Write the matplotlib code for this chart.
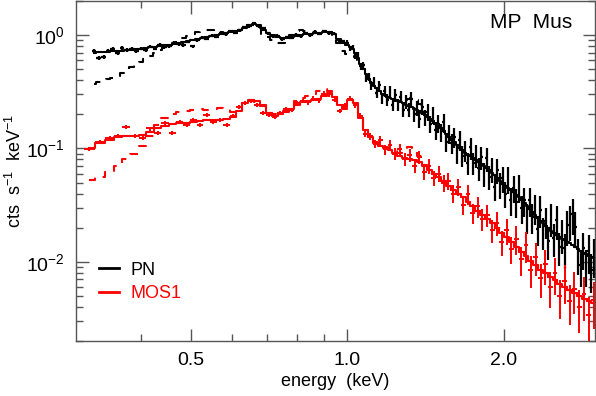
import numpy as np
import matplotlib
matplotlib.use("Agg")
import matplotlib.pyplot as plt
from matplotlib.ticker import FixedLocator, FixedFormatter, NullFormatter
from matplotlib.lines import Line2D

plt.rcParams['font.family'] = ['Liberation Sans', 'DejaVu Sans']
plt.rcParams['mathtext.fontset'] = 'custom'
plt.rcParams['mathtext.rm'] = 'Liberation Sans'
plt.rcParams['mathtext.it'] = 'Liberation Sans'
plt.rcParams['mathtext.bf'] = 'Liberation Sans'
plt.rcParams['lines.scale_dashes'] = False

# ---------------- PN (black) ----------------
pn_energy = [
    0.325, 0.332, 0.339, 0.346, 0.353, 0.361, 0.368, 0.376, 0.384, 0.392,
    0.400, 0.409, 0.417, 0.426, 0.435, 0.444, 0.454, 0.463, 0.473, 0.483,
    0.493, 0.504, 0.514, 0.525, 0.536, 0.548, 0.559, 0.571, 0.583, 0.595,
    0.608, 0.621, 0.634, 0.647, 0.661, 0.675, 0.689, 0.703, 0.718, 0.733,
    0.749, 0.765, 0.781, 0.797, 0.814, 0.831, 0.849, 0.866, 0.885, 0.903,
    0.922, 0.942, 0.962, 0.982,
    1.000, 1.012, 1.024, 1.036, 1.048, 1.061, 1.073, 1.086, 1.099, 1.112,
    1.125, 1.139, 1.152, 1.166, 1.180, 1.194, 1.208, 1.223, 1.237, 1.252,
    1.267, 1.282, 1.298, 1.313, 1.329, 1.345, 1.361, 1.377, 1.394, 1.410,
    1.427, 1.444, 1.462, 1.479, 1.497, 1.515, 1.533, 1.551, 1.570, 1.589,
    1.608, 1.627, 1.647, 1.666, 1.686, 1.706, 1.727, 1.748, 1.769, 1.790,
    1.811, 1.833, 1.855, 1.877, 1.900, 1.922, 1.945, 1.969, 1.992, 2.016,
    2.040, 2.065, 2.090, 2.115, 2.140, 2.166, 2.192, 2.218, 2.245, 2.272,
    2.299, 2.327, 2.354, 2.383, 2.411, 2.440, 2.469, 2.499, 2.529, 2.559,
    2.590, 2.621, 2.652, 2.684, 2.716, 2.749, 2.782, 2.815, 2.849, 2.883,
    2.918, 2.953, 2.988]
pn_flux = [
    0.72, 0.63, 0.64, 0.73, 0.76, 0.70, 0.77, 0.74, 0.75, 0.72,
    0.76, 0.74, 0.79, 0.76, 0.82, 0.78, 0.80, 0.85, 0.83, 0.82,
    0.87, 0.80, 0.90, 0.95, 0.93, 0.99, 0.97, 1.05, 1.02, 1.08,
    1.05, 1.10, 1.18, 1.20, 1.28, 1.20, 1.15, 1.04, 0.98, 0.99,
    0.92, 0.96, 0.95, 1.01, 0.98, 1.04, 1.00, 1.07, 1.03, 1.08,
    1.04, 1.03, 0.90, 0.88,
    0.86, 0.77, 0.78, 0.66, 0.67, 0.53, 0.54, 0.42, 0.43, 0.36,
    0.39, 0.31, 0.36, 0.275, 0.32, 0.27, 0.32, 0.242, 0.295, 0.244,
    0.287, 0.22, 0.259, 0.219, 0.274, 0.203, 0.227, 0.182, 0.234, 0.188,
    0.209, 0.164, 0.200, 0.146, 0.166, 0.138, 0.170, 0.115, 0.136, 0.112,
    0.127, 0.091, 0.119, 0.086, 0.097, 0.074, 0.102, 0.075, 0.087, 0.067,
    0.084, 0.060, 0.082, 0.056, 0.066, 0.046, 0.065, 0.048, 0.055, 0.040,
    0.054, 0.035, 0.045, 0.034, 0.046, 0.030, 0.035, 0.025, 0.035, 0.025,
    0.030, 0.0196, 0.0288, 0.0185, 0.0228, 0.0154, 0.0244, 0.0162, 0.0234, 0.0136,
    0.0176, 0.0132, 0.021, 0.0232, 0.0266, 0.0203, 0.0117, 0.0094, 0.0132, 0.0093,
    0.0125, 0.0085, 0.0115]
pn_err_frac = [
    0.04, 0.04, 0.04, 0.04, 0.04, 0.04, 0.04, 0.04, 0.04, 0.04,
    0.035, 0.035, 0.035, 0.035, 0.035, 0.035, 0.035, 0.035, 0.035, 0.035,
    0.03, 0.03, 0.03, 0.03, 0.03, 0.03, 0.03, 0.03, 0.03, 0.03,
    0.03, 0.03, 0.03, 0.03, 0.03, 0.03, 0.03, 0.03, 0.03, 0.03,
    0.03, 0.03, 0.03, 0.03, 0.03, 0.03, 0.03, 0.03, 0.03, 0.03,
    0.03, 0.03, 0.035, 0.035,
    0.05, 0.05, 0.055, 0.06, 0.065, 0.07, 0.075, 0.08, 0.085, 0.09,
    0.09, 0.10, 0.10, 0.11, 0.11, 0.12, 0.12, 0.12, 0.13, 0.13,
    0.13, 0.14, 0.14, 0.14, 0.15, 0.15, 0.15, 0.16, 0.16, 0.16,
    0.17, 0.17, 0.17, 0.18, 0.18, 0.18, 0.19, 0.19, 0.19, 0.20,
    0.20, 0.20, 0.21, 0.21, 0.21, 0.22, 0.22, 0.22, 0.23, 0.23,
    0.23, 0.24, 0.24, 0.24, 0.25, 0.25, 0.25, 0.26, 0.26, 0.26,
    0.27, 0.27, 0.27, 0.28, 0.28, 0.28, 0.29, 0.29, 0.29, 0.30,
    0.30, 0.30, 0.31, 0.31, 0.31, 0.32, 0.32, 0.32, 0.33, 0.33,
    0.33, 0.34, 0.34, 0.34, 0.35, 0.35, 0.35, 0.36, 0.36, 0.36,
    0.37, 0.37, 0.37]
pn_model = [
    0.70, 0.705, 0.71, 0.715, 0.72, 0.725, 0.73, 0.735, 0.74, 0.75,
    0.76, 0.77, 0.78, 0.79, 0.80, 0.81, 0.82, 0.84, 0.86, 0.87,
    0.88, 0.90, 0.92, 0.94, 0.96, 0.98, 1.00, 1.02, 1.04, 1.06,
    1.08, 1.12, 1.16, 1.22, 1.25, 1.22, 1.12, 1.05, 1.00, 0.97,
    0.94, 0.95, 0.97, 0.99, 1.00, 1.02, 1.03, 1.04, 1.05, 1.06,
    1.06, 1.02, 0.92, 0.86,
    0.82, 0.79, 0.76, 0.70, 0.63, 0.56, 0.50, 0.45, 0.41, 0.375,
    0.355, 0.34, 0.32, 0.305, 0.295, 0.285, 0.28, 0.275, 0.268, 0.262,
    0.256, 0.25, 0.244, 0.238, 0.232, 0.225, 0.218, 0.212, 0.205, 0.198,
    0.19, 0.182, 0.174, 0.166, 0.158, 0.15, 0.142, 0.134, 0.126, 0.119,
    0.113, 0.107, 0.101, 0.096, 0.092, 0.088, 0.085, 0.082, 0.079, 0.076,
    0.073, 0.070, 0.067, 0.064, 0.061, 0.058, 0.055, 0.052, 0.049, 0.047,
    0.045, 0.043, 0.041, 0.039, 0.037, 0.035, 0.033, 0.031, 0.029, 0.0275,
    0.026, 0.0245, 0.023, 0.0218, 0.0207, 0.0197, 0.0188, 0.018, 0.0173, 0.0166,
    0.016, 0.0155, 0.015, 0.0145, 0.014, 0.0135, 0.013, 0.0125, 0.012, 0.0116,
    0.0113, 0.011, 0.0108]
pn_model_alt = [
    0.37, 0.385, 0.40, 0.41, 0.42, 0.44, 0.46, 0.49, 0.52, 0.55,
    0.58, 0.62, 0.66, 0.70, 0.74, 0.78, 0.82, 0.86, 0.90, 0.94,
    0.98, 1.02, 1.06, 1.08, 1.10, 1.10, 1.08, 1.06, 1.05, 1.05,
    1.08, 1.12, 1.16, 1.22, 1.24, 1.15, 1.03, 0.96, 0.90, 0.86,
    0.86, 0.90, 1.00, 1.08, 1.10, 1.08, 1.06, 1.05, 1.05, 1.06,
    1.06, 1.00, 0.86, 0.72,
    0.68, 0.67, 0.66, 0.64, 0.60, 0.56, 0.50, 0.45, 0.41, 0.375,
    0.355, 0.34, 0.32, 0.305, 0.295, 0.285, 0.28, 0.275, 0.268, 0.262,
    0.256, 0.26, 0.27, 0.275, 0.278, 0.275, 0.265, 0.245, 0.22, 0.198,
    0.19, 0.182, 0.174, 0.166, 0.158, 0.15, 0.142, 0.134, 0.126, 0.119,
    0.113, 0.107, 0.101, 0.096, 0.092, 0.088, 0.085, 0.082, 0.079, 0.076,
    0.073, 0.070, 0.067, 0.064, 0.061, 0.058, 0.055, 0.052, 0.049, 0.047,
    0.045, 0.043, 0.041, 0.039, 0.037, 0.035, 0.033, 0.031, 0.029, 0.0275,
    0.026, 0.0245, 0.023, 0.0218, 0.0207, 0.0197, 0.0188, 0.018, 0.0173, 0.0166,
    0.016, 0.0155, 0.015, 0.0145, 0.014, 0.0135, 0.013, 0.0125, 0.012, 0.0116,
    0.0113, 0.011, 0.0108]

# ---------------- MOS1 (red) ----------------
mos_energy = [
    0.318, 0.334, 0.349, 0.362, 0.375, 0.389, 0.403, 0.417, 0.431, 0.445,
    0.460, 0.475, 0.490, 0.505, 0.520, 0.536, 0.552, 0.568, 0.585, 0.602,
    0.619, 0.636, 0.653, 0.670, 0.688, 0.706, 0.724, 0.743, 0.762, 0.781,
    0.800, 0.820, 0.840, 0.860, 0.881, 0.902, 0.923, 0.945, 0.967, 0.989,
    1.012, 1.035, 1.058, 1.082, 1.106, 1.131, 1.156, 1.182, 1.208, 1.235,
    1.262, 1.290, 1.318, 1.347, 1.376, 1.406, 1.437, 1.468, 1.500, 1.533,
    1.566, 1.600, 1.635, 1.671, 1.707, 1.744, 1.782, 1.821, 1.861, 1.901,
    1.942, 1.984, 2.027, 2.071, 2.116, 2.162, 2.209, 2.257, 2.306, 2.356,
    2.407, 2.459, 2.512, 2.567, 2.623, 2.680, 2.738, 2.797, 2.858, 2.920,
    2.983]
mos_flux = [
    0.098, 0.114, 0.124, 0.130, 0.156, 0.128, 0.124, 0.150, 0.137, 0.168,
    0.138, 0.172, 0.160, 0.178, 0.162, 0.196, 0.172, 0.180, 0.162, 0.195,
    0.232, 0.250, 0.262, 0.240, 0.205, 0.196, 0.190, 0.205, 0.224, 0.218,
    0.250, 0.262, 0.255, 0.275, 0.265, 0.305, 0.300, 0.270, 0.215, 0.240,
    0.275, 0.240, 0.195, 0.135, 0.128, 0.110, 0.118, 0.098, 0.108, 0.090,
    0.098, 0.080, 0.088, 0.070, 0.084, 0.062, 0.070, 0.055, 0.060, 0.050,
    0.052, 0.040, 0.046, 0.032, 0.040, 0.027, 0.031, 0.024, 0.026, 0.019,
    0.022, 0.015, 0.019, 0.013, 0.016, 0.0105, 0.014, 0.0085, 0.011, 0.0072,
    0.0095, 0.0060, 0.0080, 0.0050, 0.0068, 0.0045, 0.0058, 0.0040, 0.0052, 0.0034,
    0.0046]
mos_err_frac = [
    0.04, 0.04, 0.04, 0.04, 0.04, 0.04, 0.04, 0.04, 0.04, 0.04,
    0.04, 0.04, 0.04, 0.04, 0.04, 0.04, 0.04, 0.04, 0.04, 0.04,
    0.04, 0.04, 0.04, 0.04, 0.04, 0.04, 0.04, 0.04, 0.04, 0.04,
    0.045, 0.045, 0.045, 0.045, 0.045, 0.045, 0.045, 0.045, 0.045, 0.045,
    0.05, 0.05, 0.06, 0.07, 0.08, 0.09, 0.10, 0.10, 0.11, 0.12,
    0.12, 0.13, 0.13, 0.14, 0.14, 0.15, 0.15, 0.16, 0.16, 0.17,
    0.17, 0.18, 0.18, 0.19, 0.20, 0.20, 0.21, 0.22, 0.22, 0.23,
    0.24, 0.25, 0.26, 0.27, 0.28, 0.29, 0.30, 0.31, 0.32, 0.33,
    0.34, 0.35, 0.36, 0.37, 0.38, 0.39, 0.40, 0.41, 0.42, 0.43,
    0.44]
mos_model = [
    0.100, 0.112, 0.118, 0.125, 0.128, 0.130, 0.132, 0.140, 0.150, 0.158,
    0.166, 0.168, 0.168, 0.170, 0.175, 0.178, 0.178, 0.180, 0.182, 0.190,
    0.215, 0.250, 0.270, 0.260, 0.240, 0.205, 0.195, 0.200, 0.210, 0.225,
    0.240, 0.255, 0.262, 0.268, 0.272, 0.290, 0.310, 0.285, 0.240, 0.230,
    0.270, 0.250, 0.185, 0.145, 0.125, 0.112, 0.106, 0.100, 0.097, 0.092,
    0.086, 0.083, 0.081, 0.079, 0.076, 0.070, 0.064, 0.060, 0.056, 0.052,
    0.047, 0.043, 0.040, 0.037, 0.034, 0.031, 0.028, 0.026, 0.024, 0.022,
    0.020, 0.018, 0.0165, 0.015, 0.0135, 0.0122, 0.0112, 0.0102, 0.0093, 0.0085,
    0.0080, 0.0074, 0.0069, 0.0064, 0.0060, 0.0056, 0.0053, 0.0050, 0.0047, 0.0045,
    0.0043]
mos_model_alt = [
    0.053, 0.056, 0.062, 0.070, 0.080, 0.090, 0.105, 0.130, 0.160, 0.185,
    0.200, 0.210, 0.215, 0.220, 0.222, 0.220, 0.225, 0.228, 0.222, 0.210,
    0.220, 0.250, 0.265, 0.255, 0.235, 0.205, 0.200, 0.205, 0.215, 0.230,
    0.260, 0.280, 0.290, 0.300, 0.320, 0.335, 0.320, 0.285, 0.240, 0.225,
    0.265, 0.245, 0.185, 0.145, 0.125, 0.115, 0.108, 0.102, 0.098, 0.094,
    0.092, 0.096, 0.102, 0.100, 0.085, 0.072, 0.064, 0.060, 0.056, 0.052,
    0.047, 0.043, 0.040, 0.037, 0.034, 0.031, 0.028, 0.026, 0.024, 0.022,
    0.020, 0.018, 0.0165, 0.015, 0.0135, 0.0122, 0.0112, 0.0102, 0.0093, 0.0085,
    0.0080, 0.0074, 0.0069, 0.0064, 0.0060, 0.0056, 0.0053, 0.0050, 0.0047, 0.0045,
    0.0043]

x_major = [0.5, 1.0, 2.0]
x_major_labels = ['0.5', '1.0', '2.0']
x_minor = [0.4, 0.6, 0.7, 0.8, 0.9]
y_major = [0.01, 0.1, 1.0]
y_major_labels = [r'$10^{-2}$', r'$10^{-1}$', r'$10^{0}$']


def bin_halfwidths(e):
    e = np.asarray(e, float)
    mids = np.sqrt(e[:-1] * e[1:])
    lo = np.concatenate([[e[0] ** 2 / mids[0]], mids])
    hi = np.concatenate([mids, [e[-1] ** 2 / mids[-1]]])
    return np.vstack([e - lo, hi - e])


fig = plt.figure(figsize=(5.96, 3.96), dpi=100)
ax = fig.add_axes([76 / 596, 55 / 396, 519 / 596, 340 / 396])
ax.set_xscale('log')
ax.set_yscale('log')

for e, f, frac, mod, alt, col, elw in [
        (pn_energy, pn_flux, pn_err_frac, pn_model, pn_model_alt, 'black', 1.6),
        (mos_energy, mos_flux, mos_err_frac, mos_model, mos_model_alt, '#ff0000', 1.4)]:
    e = np.asarray(e); f = np.asarray(f); frac = np.asarray(frac)
    ax.step(e, alt, where='mid', color=col, lw=1.5, dashes=(6, 6))
    ax.errorbar(e, f, xerr=bin_halfwidths(e), yerr=f * frac, fmt='none',
                ecolor=col, elinewidth=elw, capsize=0)
    ax.step(e, mod, where='mid', color=col, lw=1.5)

ax.set_xlim(0.30, 3.0)
ax.set_ylim(0.002, 2.0)

ax.xaxis.set_major_locator(FixedLocator(x_major))
ax.xaxis.set_major_formatter(FixedFormatter(x_major_labels))
ax.xaxis.set_minor_locator(FixedLocator(x_minor))
ax.xaxis.set_minor_formatter(NullFormatter())
ax.yaxis.set_major_locator(FixedLocator(y_major))
ax.yaxis.set_major_formatter(FixedFormatter(y_major_labels))

axcol = '#555555'
for s in ax.spines.values():
    s.set_color(axcol)
    s.set_linewidth(1.0)
ax.tick_params(which='both', direction='in', top=True, right=True, color=axcol,
               labelsize=14, labelcolor='black')
ax.tick_params(which='major', length=9, width=1.0, pad=8)
ax.tick_params(which='minor', length=5, width=1.0)

ax.set_xlabel('energy  (keV)', fontsize=13, labelpad=3)
ax.set_ylabel(r'cts  s$^{-1}$  keV$^{-1}$', fontsize=13, labelpad=1)

ax.text(0.956, 0.937, 'MP  Mus', transform=ax.transAxes, ha='right', va='center',
        fontsize=15)

handles = [Line2D([], [], color='black', lw=2), Line2D([], [], color='#ff0000', lw=2)]
ax.legend(handles, ['PN', 'MOS1'], loc='lower left', bbox_to_anchor=(0.045, 0.115),
          frameon=False, handlelength=1.1, handletextpad=0.6, labelspacing=0.35,
          borderpad=0, borderaxespad=0, fontsize=13, labelcolor=['black', '#ff0000'])

fig.savefig('out.png', dpi=100)
